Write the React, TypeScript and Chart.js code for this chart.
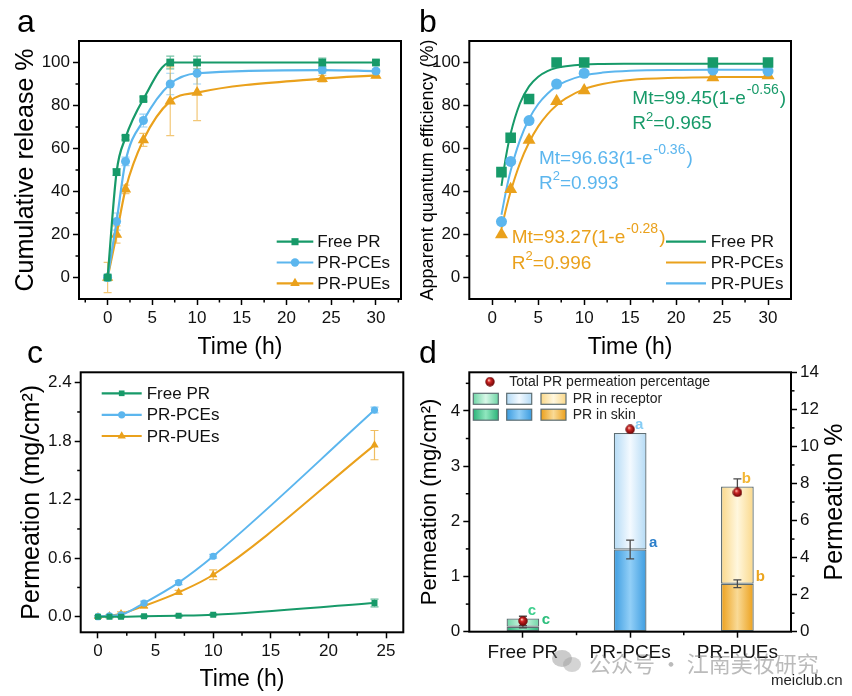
import React, { useEffect, useRef } from 'react';
import { Chart, registerables } from 'chart.js';

Chart.register(...registerables);

const FONT = '"Liberation Sans", Arial, Helvetica, sans-serif';
const PAGE_W = 852;
const PAGE_H = 696;

// ---------- data ----------
const seriesNames = ['Free PR', 'PR-PCEs', 'PR-PUEs'];

// panel a: cumulative release %
const timeA = [0, 1, 2, 4, 7, 10, 24, 30];
const releaseFree = [0, 49, 65, 83, 100, 100, 100, 100];
const releasePCE = [0, 26, 54, 73, 90, 95, 96.5, 96];
const releasePUE = [0, 20, 41, 64, 82, 86, 92.5, 94];
const releaseErrFree = [1, 1.5, 1, 1, 3, 3, 2, 1];
const releaseErrPCE = [1, 4, 2, 3, 5, 5, 1.5, 1];
const releaseErrPUE = [7, 4, 2, 3, 16, 13, 1.5, 1];
const timeTicks30 = [0, 5, 10, 15, 20, 25, 30];
const pctTicks = [0, 20, 40, 60, 80, 100];

// panel b: apparent quantum efficiency + fits
const timeB = [1, 2, 4, 7, 10, 24, 30];
const qeFree = [49, 65, 83, 100, 100, 100, 100];
const qePCE = [26, 54, 73, 90, 95, 96.5, 96];
const qePUE = [20, 41, 64, 82, 87, 93, 94];
const fitT = [1, 1.5, 2, 3, 4, 5, 6, 7, 8, 10, 12, 15, 20, 25, 30];
const fitFree = [42.6, 56.5, 67.0, 80.9, 88.9, 93.4, 96.0, 97.5, 98.3, 99.1, 99.3, 99.4, 99.45, 99.45, 99.45];
const fitPCE = [29.2, 40.3, 49.6, 63.8, 73.7, 80.7, 85.5, 88.9, 91.2, 94.0, 95.3, 96.2, 96.55, 96.6, 96.63];
const fitPUE = [22.8, 32.0, 40.0, 53.0, 62.8, 70.3, 75.9, 80.1, 83.3, 87.6, 90.0, 91.9, 92.9, 93.2, 93.27];
const fitEquations = ['Mt=99.45(1-e', 'Mt=96.63(1-e', 'Mt=93.27(1-e'];
const fitExponents = ['-0.56', '-0.36', '-0.28'];
const fitR2 = ['=0.965', '=0.993', '=0.996'];
const legendBLabels = ['Free PR', 'PR-PCEs', 'PR-PUEs'];

// panel c: permeation vs time
const timeC = [0, 1, 2, 4, 7, 10, 24];
const permFree = [0, 0, 0, 0.005, 0.01, 0.02, 0.14];
const permPCE = [0, 0.01, 0.02, 0.14, 0.35, 0.62, 2.12];
const permPUE = [0, 0.01, 0.03, 0.11, 0.25, 0.43, 1.76];
const permErrFree = [0.01, 0.01, 0.01, 0.01, 0.01, 0.01, 0.04];
const permErrPCE = [0.01, 0.01, 0.01, 0.02, 0.02, 0.02, 0.03];
const permErrPUE = [0.01, 0.01, 0.02, 0.02, 0.02, 0.05, 0.15];
const timeTicks25 = [0, 5, 10, 15, 20, 25];
const permTicks = [0, 0.6, 1.2, 1.8, 2.4];

// panel d: stacked bars
const groups = ['Free PR', 'PR-PCEs', 'PR-PUEs'];
const skinAmount = [0.09, 1.49, 0.87];
const receptorAmount = [0.15, 2.11, 1.76];
const skinErr = [0.02, 0.17, 0.07];
const totalErr = [0.04, 0, 0.14];
const totalPercent = [0.58, 10.92, 7.52];
const skinLetters = ['c', 'a', 'b'];
const totalLetters = ['c', 'a', 'b'];
const amountTicks = [0, 1, 2, 3, 4];
const percentTicks = [0, 2, 4, 6, 8, 10, 12, 14];

// ---------- styles ----------
const GREEN = '#179a69';
const BLUE = '#5cb6ee';
const ORANGE = '#eaa11c';
const COLORS = [GREEN, BLUE, ORANGE];
type Marker = 'rect' | 'circle' | 'triangle';
const MARKERS: Marker[] = ['rect', 'circle', 'triangle'];

function hexA(hex: string, a: number) {
  const n = parseInt(hex.slice(1), 16);
  return `rgba(${(n >> 16) & 255},${(n >> 8) & 255},${n & 255},${a})`;
}

function drawMarker(ctx: any, style: Marker, x: number, y: number, r: number, color: string) {
  ctx.save();
  ctx.fillStyle = color;
  ctx.beginPath();
  if (style === 'rect') {
    const s = r * Math.SQRT1_2;
    ctx.rect(x - s, y - s, 2 * s, 2 * s);
  } else if (style === 'circle') {
    ctx.arc(x, y, r, 0, Math.PI * 2);
  } else {
    ctx.moveTo(x, y - r);
    ctx.lineTo(x + r * 0.866, y + r * 0.5);
    ctx.lineTo(x - r * 0.866, y + r * 0.5);
    ctx.closePath();
  }
  ctx.fill();
  ctx.restore();
}

function minorValues(min: number, max: number, step: number, major: number) {
  const out: number[] = [];
  const start = Math.ceil((min + 1e-9) / step) * step;
  for (let v = start; v < max - 1e-9; v += step) {
    const r = v / major;
    if (Math.abs(r - Math.round(r)) > 1e-6) out.push(+v.toFixed(6));
  }
  return out;
}

function drawFrame(chart: any, minors: { id: string; vals: number[] }[]) {
  const { ctx, chartArea: a } = chart;
  ctx.save();
  ctx.strokeStyle = '#000';
  ctx.lineWidth = 1.5;
  for (const m of minors) {
    const s = chart.scales[m.id];
    for (const v of m.vals) {
      const p = s.getPixelForValue(v);
      ctx.beginPath();
      if (s.position === 'bottom') {
        ctx.moveTo(p, a.bottom);
        ctx.lineTo(p, a.bottom + 3.5);
      } else if (s.position === 'left') {
        ctx.moveTo(a.left, p);
        ctx.lineTo(a.left - 3.5, p);
      } else {
        ctx.moveTo(a.right, p);
        ctx.lineTo(a.right + 3.5, p);
      }
      ctx.stroke();
    }
  }
  ctx.lineWidth = 2;
  ctx.strokeRect(a.left, a.top, a.right - a.left, a.bottom - a.top);
  ctx.restore();
}

function drawErr(ctx: any, xs: any, ys: any, x: number, y: number, e: number, color: string, cap: number, lw: number) {
  if (!e) return;
  const px = xs.getPixelForValue(x);
  const p1 = ys.getPixelForValue(y - e);
  const p2 = ys.getPixelForValue(y + e);
  ctx.save();
  ctx.strokeStyle = color;
  ctx.lineWidth = lw;
  ctx.beginPath();
  ctx.moveTo(px, p1);
  ctx.lineTo(px, p2);
  ctx.moveTo(px - cap, p1);
  ctx.lineTo(px + cap, p1);
  ctx.moveTo(px - cap, p2);
  ctx.lineTo(px + cap, p2);
  ctx.stroke();
  ctx.restore();
}

function drawLineLegend(ctx: any, labels: string[], colors: string[], markers: (Marker | null)[], radii: number[], x0: number, x1: number, tx: number, ys: number[], size: number) {
  ctx.save();
  ctx.font = `${size}px ${FONT}`;
  ctx.textBaseline = 'middle';
  ctx.textAlign = 'left';
  labels.forEach((lab, i) => {
    const y = ys[i];
    ctx.strokeStyle = colors[i];
    ctx.lineWidth = 2.2;
    ctx.beginPath();
    ctx.moveTo(x0, y);
    ctx.lineTo(x1, y);
    ctx.stroke();
    const mk = markers[i];
    if (mk) drawMarker(ctx, mk, (x0 + x1) / 2, y, radii[i], colors[i]);
    ctx.fillStyle = '#111';
    ctx.fillText(lab, tx, y + 1);
  });
  ctx.restore();
}

function drawPanelLetter(ctx: any, letter: string, x: number, y: number) {
  ctx.save();
  ctx.font = `32px ${FONT}`;
  ctx.fillStyle = '#000';
  ctx.textBaseline = 'alphabetic';
  ctx.textAlign = 'left';
  ctx.fillText(letter, x, y);
  ctx.restore();
}

function linAxis(o: any) {
  const isX = o.pos === 'bottom';
  return {
    type: 'linear',
    position: o.pos,
    min: o.min,
    max: o.max,
    afterBuildTicks: (s: any) => {
      s.ticks = o.ticks.map((v: number) => ({ value: v }));
    },
    afterFit: (s: any) => {
      if (isX) s.height = o.size;
      else s.width = o.size;
    },
    grid: { display: true, drawOnChartArea: false, drawTicks: true, tickLength: 6, tickWidth: 1.5, tickColor: '#000' },
    border: { display: false },
    ticks: {
      color: '#111',
      font: { family: FONT, size: o.tickFont ?? 17 },
      padding: o.pad ?? 3,
      autoSkip: false,
      maxRotation: 0,
      callback: (v: any) => (o.fmt ? o.fmt(Number(v)) : String(v)),
    },
    title: o.title
      ? { display: true, text: o.title, color: '#000', font: { family: FONT, size: o.titleFont ?? 23 }, padding: 0 }
      : { display: false },
  };
}

const baseOpts = {
  responsive: false,
  maintainAspectRatio: false,
  animation: false,
  events: [],
};

// ---------- panel a ----------
function makeA(cv: HTMLCanvasElement) {
  const vals = [releaseFree, releasePCE, releasePUE];
  const errs = [releaseErrFree, releaseErrPCE, releaseErrPUE];
  const radii = [5.5, 4.5, 6.5];
  const X = { min: -3.2, max: 32.8 };
  const Y = { min: -10, max: 110 };
  return new Chart(cv, {
    type: 'scatter',
    data: {
      datasets: vals.map((v, k) => ({
        label: seriesNames[k],
        data: timeA.map((t, i) => ({ x: t, y: v[i] })),
        showLine: true,
        borderColor: COLORS[k],
        backgroundColor: COLORS[k],
        borderWidth: 2.2,
        pointStyle: MARKERS[k],
        pointRadius: radii[k],
        pointBorderWidth: 0,
        cubicInterpolationMode: 'monotone',
      })),
    },
    options: {
      ...baseOpts,
      layout: { padding: { left: 11, top: 41, right: PAGE_W - 401, bottom: PAGE_H - 299 - 62.8 } },
      plugins: { legend: { display: false }, tooltip: { enabled: false } },
      scales: {
        x: linAxis({ pos: 'bottom', ...X, ticks: timeTicks30, size: 62.8, title: 'Time (h)' }),
        y: linAxis({ pos: 'left', ...Y, ticks: pctTicks, size: 68, title: 'Cumulative release %', titleFont: 25 }),
      },
    } as any,
    plugins: [
      {
        id: 'decoA',
        beforeDatasetsDraw(chart: any) {
          vals.forEach((v, k) =>
            v.forEach((y, i) => drawErr(chart.ctx, chart.scales.x, chart.scales.y, timeA[i], y, errs[k][i], hexA(COLORS[k], 0.6), 4, 1.2))
          );
        },
        afterDraw(chart: any) {
          drawFrame(chart, [
            { id: 'x', vals: minorValues(X.min, X.max, 2.5, 5) },
            { id: 'y', vals: minorValues(Y.min, Y.max, 10, 20) },
          ]);
          drawLineLegend(chart.ctx, seriesNames, COLORS, MARKERS, [5, 4.2, 5.5], 276.7, 313.3, 317.3, [241.7, 262.5, 283.3], 17);
          drawPanelLetter(chart.ctx, 'a', 17, 32);
        },
      },
    ],
  } as any);
}

// ---------- panel b ----------
function makeB(cv: HTMLCanvasElement) {
  const pts = [qeFree, qePCE, qePUE];
  const fits = [fitFree, fitPCE, fitPUE];
  const radii = [7.5, 5.5, 7.5];
  const X = { min: -2.5, max: 32.5 };
  const Y = { min: -10, max: 110 };
  const legendColors = [GREEN, ORANGE, BLUE];
  const eqPos = [
    [632.3, 98.3, 124],
    [539, 158.3, 183.3],
    [511.7, 237.3, 263.3],
  ];
  const datasets: any[] = [];
  pts.forEach((v, k) =>
    datasets.push({
      label: seriesNames[k],
      data: timeB.map((t, i) => ({ x: t, y: v[i] })),
      showLine: false,
      backgroundColor: COLORS[k],
      borderColor: COLORS[k],
      pointStyle: MARKERS[k],
      pointRadius: radii[k],
      pointBorderWidth: 0,
    })
  );
  fits.forEach((v, k) =>
    datasets.push({
      label: seriesNames[k] + ' fit',
      data: fitT.map((t, i) => ({ x: t, y: v[i] })),
      showLine: true,
      borderColor: COLORS[k],
      borderWidth: 2,
      pointRadius: 0,
      cubicInterpolationMode: 'monotone',
    })
  );
  return new Chart(cv, {
    type: 'scatter',
    data: { datasets },
    options: {
      ...baseOpts,
      layout: { padding: { left: 417.2, top: 41, right: PAGE_W - 791, bottom: PAGE_H - 299 - 62.8 } },
      plugins: { legend: { display: false }, tooltip: { enabled: false } },
      scales: {
        x: linAxis({ pos: 'bottom', ...X, ticks: timeTicks30, size: 62.8, title: 'Time (h)' }),
        y: linAxis({ pos: 'left', ...Y, ticks: pctTicks, size: 52.1, title: 'Apparent quantum efficiency (%)', titleFont: 18 }),
      },
    } as any,
    plugins: [
      {
        id: 'decoB',
        afterDraw(chart: any) {
          const ctx = chart.ctx;
          drawFrame(chart, [
            { id: 'x', vals: minorValues(X.min, X.max, 2.5, 5) },
            { id: 'y', vals: minorValues(Y.min, Y.max, 10, 20) },
          ]);
          ctx.save();
          ctx.textBaseline = 'middle';
          ctx.textAlign = 'left';
          fitEquations.forEach((eq, k) => {
            const [x, y1, y2] = eqPos[k];
            ctx.fillStyle = COLORS[k];
            ctx.font = `19px ${FONT}`;
            ctx.fillText(eq, x, y1);
            const w = ctx.measureText(eq).width;
            ctx.font = `14px ${FONT}`;
            ctx.fillText(fitExponents[k], x + w + 1, y1 - 8);
            const w2 = ctx.measureText(fitExponents[k]).width;
            ctx.font = `19px ${FONT}`;
            ctx.fillText(')', x + w + w2 + 2, y1);
            ctx.fillText('R', x, y2);
            const wr = ctx.measureText('R').width;
            ctx.font = `13px ${FONT}`;
            ctx.fillText('2', x + wr, y2 - 7);
            const w3 = ctx.measureText('2').width;
            ctx.font = `19px ${FONT}`;
            ctx.fillText(fitR2[k], x + wr + w3, y2);
          });
          ctx.restore();
          drawLineLegend(ctx, legendBLabels, legendColors, [null, null, null], [0, 0, 0], 666, 706, 710.7, [241.7, 262.5, 283.3], 17);
          drawPanelLetter(ctx, 'b', 419, 32);
        },
      },
    ],
  } as any);
}

// ---------- panel c ----------
function makeC(cv: HTMLCanvasElement) {
  const vals = [permFree, permPCE, permPUE];
  const errs = [permErrFree, permErrPCE, permErrPUE];
  const radii = [4.2, 3.6, 4.8];
  const X = { min: -1.5, max: 26.5 };
  const Y = { min: -0.16, max: 2.507 };
  return new Chart(cv, {
    type: 'scatter',
    data: {
      datasets: vals.map((v, k) => ({
        label: seriesNames[k],
        data: timeC.map((t, i) => ({ x: t, y: v[i] })),
        showLine: true,
        borderColor: COLORS[k],
        backgroundColor: COLORS[k],
        borderWidth: 2,
        pointStyle: MARKERS[k],
        pointRadius: radii[k],
        pointBorderWidth: 0,
        cubicInterpolationMode: 'monotone',
      })),
    },
    options: {
      ...baseOpts,
      layout: { padding: { left: 17, top: 372.3, right: PAGE_W - 403.3, bottom: PAGE_H - 632.3 - 61.5 } },
      plugins: { legend: { display: false }, tooltip: { enabled: false } },
      scales: {
        x: linAxis({ pos: 'bottom', ...X, ticks: timeTicks25, size: 61.5, title: 'Time (h)' }),
        y: linAxis({ pos: 'left', ...Y, ticks: permTicks, size: 63.7, title: 'Permeation (mg/cm²)', titleFont: 25, fmt: (v: number) => v.toFixed(1) }),
      },
    } as any,
    plugins: [
      {
        id: 'decoC',
        beforeDatasetsDraw(chart: any) {
          vals.forEach((v, k) =>
            v.forEach((y, i) => drawErr(chart.ctx, chart.scales.x, chart.scales.y, timeC[i], y, errs[k][i], hexA(COLORS[k], 0.7), 4, 1.2))
          );
        },
        afterDraw(chart: any) {
          drawFrame(chart, [
            { id: 'x', vals: minorValues(X.min, X.max, 2.5, 5) },
            { id: 'y', vals: minorValues(Y.min, Y.max, 0.3, 0.6) },
          ]);
          drawLineLegend(chart.ctx, seriesNames, COLORS, MARKERS, [4, 3.6, 4.8], 101.7, 141.7, 146.7, [393.3, 414.8, 436], 17);
          drawPanelLetter(chart.ctx, 'c', 27, 363);
        },
      },
    ],
  } as any);
}

// ---------- panel d ----------
const SKIN_FILL = [
  ['#2db47a', '#90e7bf'],
  ['#3c9ce0', '#92cff7'],
  ['#eca01c', '#f9da96'],
];
const REC_FILL = [
  ['#6fd6a6', '#d8f7e8'],
  ['#b3daf5', '#f4faff'],
  ['#fad88a', '#fff7de'],
];
const BAR_FRAC = 0.305;
const BAR_BORDER = '#5e6e73';

function makeSphere(d: number) {
  const cv = document.createElement('canvas');
  cv.width = d;
  cv.height = d;
  const g = cv.getContext('2d')!;
  const grad = g.createRadialGradient(d * 0.38, d * 0.34, d * 0.04, d / 2, d / 2, d / 2);
  grad.addColorStop(0, '#ffc0b0');
  grad.addColorStop(0.3, '#d02626');
  grad.addColorStop(1, '#5e0000');
  g.fillStyle = grad;
  g.beginPath();
  g.arc(d / 2, d / 2, d / 2 - 0.3, 0, Math.PI * 2);
  g.fill();
  return cv;
}

function hGrad(ctx: any, x0: number, x1: number, pair: string[]) {
  const g = ctx.createLinearGradient(x0, 0, x1, 0);
  g.addColorStop(0, pair[0]);
  g.addColorStop(0.5, pair[1]);
  g.addColorStop(1, pair[0]);
  return g;
}

function barFill(pairs: string[][]) {
  return (c: any) => {
    const chart = c.chart;
    const area = chart.chartArea;
    const xs = chart.scales && chart.scales.x;
    const pair = pairs[c.dataIndex] || pairs[0];
    if (!area || !xs || c.dataIndex === undefined) return pair[0];
    const cx = xs.getPixelForValue(c.dataIndex);
    const w = ((area.right - area.left) / groups.length) * BAR_FRAC;
    return hGrad(chart.ctx, cx - w / 2, cx + w / 2, pair);
  };
}

function makeD(cv: HTMLCanvasElement) {
  const sphere = makeSphere(10);
  const topLetterColors = ['#3fcf8e', '#86cdf5', '#f3b634'];
  const skinLetterColors = ['#2dbf7d', '#2b7fcb', '#eba51f'];
  return new Chart(cv, {
    type: 'bar',
    data: {
      labels: groups,
      datasets: [
        {
          type: 'line',
          label: 'Total PR permeation percentage',
          data: totalPercent,
          yAxisID: 'y1',
          showLine: false,
          pointStyle: sphere,
          pointRadius: 5,
          order: 0,
        },
        {
          label: 'PR in skin',
          data: skinAmount,
          yAxisID: 'y',
          stack: 's',
          backgroundColor: barFill(SKIN_FILL),
          borderColor: BAR_BORDER,
          borderWidth: 1.3,
          borderSkipped: false,
          barPercentage: BAR_FRAC,
          categoryPercentage: 1,
          order: 1,
        },
        {
          label: 'PR in receptor',
          data: receptorAmount,
          yAxisID: 'y',
          stack: 's',
          backgroundColor: barFill(REC_FILL),
          borderColor: BAR_BORDER,
          borderWidth: 1.3,
          borderSkipped: false,
          barPercentage: BAR_FRAC,
          categoryPercentage: 1,
          order: 1,
        },
      ],
    },
    options: {
      ...baseOpts,
      layout: { padding: { left: 416.8, top: 372.3, right: PAGE_W - 791 - 40, bottom: PAGE_H - 631.7 - 40 } },
      plugins: { legend: { display: false }, tooltip: { enabled: false } },
      scales: {
        x: {
          type: 'category',
          stacked: true,
          offset: true,
          afterFit: (s: any) => {
            s.height = 40;
          },
          grid: { display: true, drawOnChartArea: false, drawTicks: true, offset: false, tickLength: 6, tickWidth: 1.5, tickColor: '#000' },
          border: { display: false },
          ticks: { color: '#111', font: { family: FONT, size: 19 }, padding: 4, maxRotation: 0, autoSkip: false },
        },
        y: { ...linAxis({ pos: 'left', min: 0, max: 4.7, ticks: amountTicks, size: 52.5, title: 'Permeation (mg/cm²)', titleFont: 22 }), stacked: true },
        y1: { ...linAxis({ pos: 'right', min: 0, max: 14, ticks: percentTicks, size: 40 }), stacked: false },
      },
    } as any,
    plugins: [
      {
        id: 'decoD',
        beforeDatasetDraw(chart: any, args: any) {
          if (args.index !== 0) return;
          const xs = chart.scales.x;
          const ys = chart.scales.y;
          groups.forEach((_, i) => {
            drawErr(chart.ctx, xs, ys, i, skinAmount[i], skinErr[i], '#4a4a4a', 4, 1.3);
            drawErr(chart.ctx, xs, ys, i, skinAmount[i] + receptorAmount[i], totalErr[i], '#4a4a4a', 4, 1.3);
          });
        },
        afterDatasetsDraw(chart: any) {
          const ctx = chart.ctx;
          const xs = chart.scales.x;
          const ys = chart.scales.y;
          const bottom = chart.chartArea.bottom;
          ctx.save();
          ctx.font = `bold 15px ${FONT}`;
          ctx.textAlign = 'center';
          ctx.textBaseline = 'middle';
          groups.forEach((_, i) => {
            const cx = xs.getPixelForValue(i);
            const topPx = ys.getPixelForValue(skinAmount[i] + receptorAmount[i]);
            const skinPx = ys.getPixelForValue(skinAmount[i]);
            ctx.fillStyle = topLetterColors[i];
            ctx.fillText(totalLetters[i], cx + 9, topPx - 8);
            ctx.fillStyle = skinLetterColors[i];
            ctx.fillText(skinLetters[i], cx + 23, Math.min(skinPx - 7, bottom - 6));
          });
          ctx.restore();
        },
        afterDraw(chart: any) {
          const ctx = chart.ctx;
          drawFrame(chart, [
            { id: 'x', vals: [0.5, 1.5] },
            { id: 'y', vals: minorValues(0, 4.7, 0.5, 1) },
            { id: 'y1', vals: minorValues(0, 14, 1, 2) },
          ]);
          // right axis title
          ctx.save();
          ctx.translate(835, 502);
          ctx.rotate(-Math.PI / 2);
          ctx.font = `25px ${FONT}`;
          ctx.textAlign = 'center';
          ctx.textBaseline = 'middle';
          ctx.fillStyle = '#000';
          ctx.fillText('Permeation %', 0, 0);
          ctx.restore();
          // legend
          ctx.save();
          ctx.drawImage(sphere, 490 - 5, 381.7 - 5);
          ctx.font = `14px ${FONT}`;
          ctx.fillStyle = '#222';
          ctx.textBaseline = 'middle';
          ctx.textAlign = 'left';
          ctx.fillText('Total PR permeation percentage', 509.3, 382);
          const swX = [473.3, 506.7, 541];
          const rows = [
            { y: 398.8, fills: REC_FILL, label: 'PR in receptor' },
            { y: 414.7, fills: SKIN_FILL, label: 'PR in skin' },
          ];
          rows.forEach((r) => {
            swX.forEach((x, k) => {
              ctx.fillStyle = hGrad(ctx, x, x + 25, r.fills[k]);
              ctx.fillRect(x, r.y - 5.5, 25, 11);
              ctx.strokeStyle = BAR_BORDER;
              ctx.lineWidth = 1.2;
              ctx.strokeRect(x, r.y - 5.5, 25, 11);
            });
            ctx.fillStyle = '#222';
            ctx.fillText(r.label, 572.7, r.y + 0.5);
          });
          ctx.restore();
          drawPanelLetter(ctx, 'd', 419, 363);
        },
      },
    ],
  } as any);
}

export default function App() {
  const r0 = useRef<HTMLCanvasElement>(null);
  const r1 = useRef<HTMLCanvasElement>(null);
  const r2 = useRef<HTMLCanvasElement>(null);
  const r3 = useRef<HTMLCanvasElement>(null);
  const refs = [r0, r1, r2, r3];

  useEffect(() => {
    const charts = [makeA(r0.current!), makeB(r1.current!), makeC(r2.current!), makeD(r3.current!)];
    return () => charts.forEach((c) => c.destroy());
  }, []);

  return (
    <div style={{ position: 'fixed', left: 0, top: 0, width: PAGE_W, height: PAGE_H, background: '#fff', overflow: 'hidden' }}>
      {refs.map((r, i) => (
        <canvas
          key={i}
          ref={r}
          width={PAGE_W}
          height={PAGE_H}
          style={{ position: 'absolute', left: 0, top: 0, width: PAGE_W, height: PAGE_H }}
        />
      ))}
      <div style={{ position: 'absolute', left: 552, top: 650, width: 20, height: 17, borderRadius: '50%', background: 'rgba(140,140,140,0.45)' }} />
      <div style={{ position: 'absolute', left: 563, top: 657, width: 18, height: 15, borderRadius: '50%', background: 'rgba(160,160,160,0.45)' }} />
      <div
        style={{
          position: 'absolute',
          left: 589,
          top: 648,
          fontFamily: '"Noto Sans CJK SC", sans-serif',
          fontSize: 22,
          lineHeight: '28px',
          color: 'rgba(120,120,120,0.5)',
          whiteSpace: 'nowrap',
        }}
      >
        公众号 · 江南美妆研究
      </div>
      <div
        style={{
          position: 'absolute',
          left: 771,
          top: 671,
          fontFamily: FONT,
          fontSize: 15,
          lineHeight: '18px',
          color: '#222',
          whiteSpace: 'nowrap',
        }}
      >
        meiclub.cn
      </div>
    </div>
  );
}
